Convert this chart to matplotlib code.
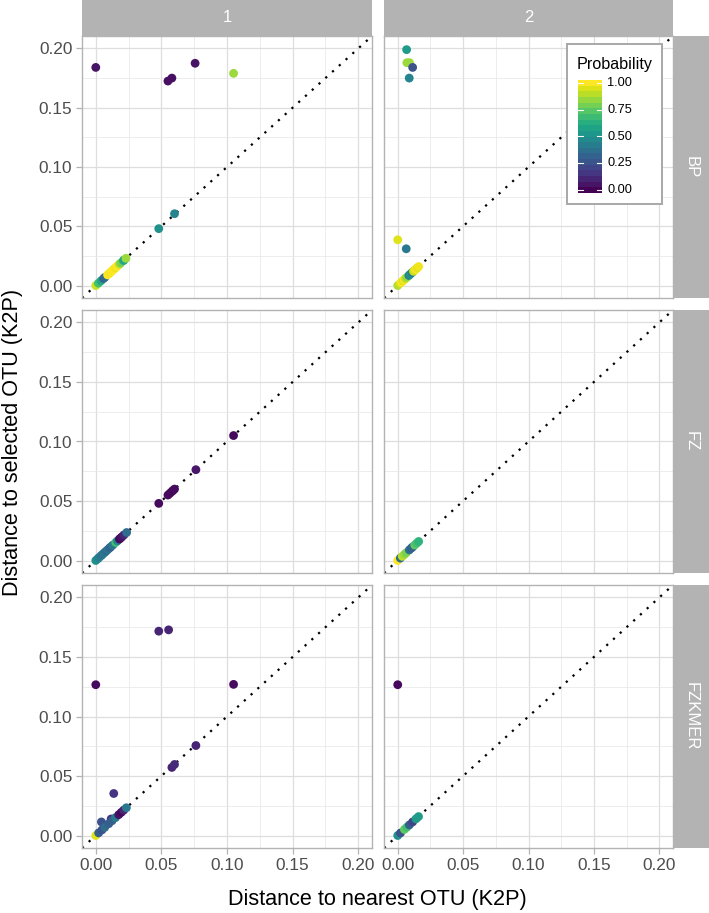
import numpy as np
import matplotlib.pyplot as plt
from matplotlib.patches import Rectangle

plt.rcParams['font.family'] = ['Liberation Sans', 'DejaVu Sans']

# facet labels
col_labels = ['1', '2']
row_labels = ['BP', 'FZ', 'FZKMER']
ticks = [0.00, 0.05, 0.10, 0.15, 0.20]
tick_labels = ['0.00', '0.05', '0.10', '0.15', '0.20']

# BP / 1
bp1_x = [0.000, 0.055, 0.058, 0.0757, 0.105, 0.060, 0.048,
         0.000, 0.002, 0.004, 0.006, 0.007, 0.009, 0.010, 0.011, 0.012, 0.013,
         0.014, 0.015, 0.016, 0.017, 0.018, 0.019, 0.021, 0.0215, 0.023]
bp1_y = [0.184, 0.1725, 0.175, 0.1875, 0.179, 0.0606, 0.048,
         0.000, 0.002, 0.004, 0.006, 0.007, 0.009, 0.010, 0.011, 0.012, 0.013,
         0.014, 0.015, 0.016, 0.017, 0.018, 0.019, 0.021, 0.0215, 0.023]
bp1_p = [0.05, 0.04, 0.04, 0.05, 0.85, 0.45, 0.50,
         0.92, 0.70, 0.60, 0.30, 0.35, 1.00, 1.00, 0.98, 1.00, 1.00,
         1.00, 0.97, 1.00, 1.00, 0.90, 0.80, 0.65, 0.60, 0.85]

# BP / 2
bp2_x = [0.0068, 0.007, 0.009, 0.0114, 0.0088, 0.000, 0.0065,
         0.000, 0.002, 0.003, 0.004, 0.005, 0.006, 0.007, 0.0085, 0.0095, 0.011,
         0.012, 0.013, 0.014, 0.015, 0.016]
bp2_y = [0.199, 0.188, 0.188, 0.184, 0.175, 0.0386, 0.031,
         0.000, 0.002, 0.003, 0.004, 0.005, 0.006, 0.007, 0.0085, 0.0095, 0.011,
         0.012, 0.013, 0.014, 0.015, 0.016]
bp2_p = [0.55, 0.85, 0.85, 0.25, 0.45, 0.95, 0.40,
         0.88, 0.95, 1.00, 0.95, 1.00, 0.90, 0.85, 0.45, 0.50, 0.40,
         0.90, 0.95, 1.00, 0.95, 0.98]

# FZ / 1
fz1_x = [0.105, 0.0763, 0.055, 0.0565, 0.058, 0.059, 0.060, 0.048,
         0.000, 0.0015, 0.0025, 0.004, 0.005, 0.0065, 0.0076, 0.009, 0.0105,
         0.0114, 0.013, 0.0152, 0.0165, 0.018, 0.019, 0.020, 0.0215, 0.0235]
fz1_y = [0.105, 0.0763, 0.055, 0.0565, 0.058, 0.059, 0.060, 0.048,
         0.000, 0.0015, 0.0025, 0.004, 0.005, 0.0065, 0.0076, 0.009, 0.0105,
         0.0114, 0.013, 0.0152, 0.0165, 0.018, 0.019, 0.020, 0.0215, 0.0235]
fz1_p = [0.02, 0.06, 0.03, 0.02, 0.03, 0.02, 0.03, 0.03,
         0.50, 0.48, 0.42, 0.40, 0.38, 0.40, 0.35, 0.38, 0.33,
         0.32, 0.40, 0.70, 0.45, 0.03, 0.02, 0.05, 0.10, 0.35]

# FZ / 2
fz2_x = [0.000, 0.002, 0.0035, 0.005, 0.0065, 0.0089, 0.0105, 0.0114, 0.013, 0.0145, 0.016]
fz2_y = [0.000, 0.002, 0.0035, 0.005, 0.0065, 0.0089, 0.0105, 0.0114, 0.013, 0.0145, 0.016]
fz2_p = [1.00, 0.35, 0.90, 0.85, 0.80, 0.35, 0.30, 0.32, 0.75, 0.70, 0.65]

# FZKMER / 1
fzk1_x = [0.048, 0.0555, 0.000, 0.105, 0.0763, 0.058, 0.060, 0.0137, 0.0043, 0.0117,
          0.000, 0.0022, 0.0047, 0.0068, 0.0099, 0.0124, 0.015, 0.0175, 0.0195, 0.0213, 0.0233]
fzk1_y = [0.1717, 0.1728, 0.1267, 0.127, 0.0756, 0.0572, 0.0597, 0.0353, 0.0114, 0.0139,
          0.000, 0.0022, 0.0047, 0.0068, 0.0099, 0.0124, 0.015, 0.0175, 0.0195, 0.0213, 0.0233]
fzk1_p = [0.10, 0.10, 0.03, 0.03, 0.10, 0.10, 0.12, 0.15, 0.25, 0.15,
          0.95, 0.30, 0.25, 0.35, 0.30, 0.30, 0.40, 0.05, 0.02, 0.10, 0.40]

# FZKMER / 2
fzk2_x = [0.000, 0.000, 0.0021, 0.0051, 0.007, 0.0089, 0.0114, 0.014, 0.0159]
fzk2_y = [0.1267, 0.000, 0.0021, 0.0051, 0.007, 0.0089, 0.0114, 0.014, 0.0159]
fzk2_p = [0.02, 0.50, 0.25, 0.75, 0.70, 0.30, 0.20, 0.55, 0.55]

panels = [[(bp1_x, bp1_y, bp1_p), (bp2_x, bp2_y, bp2_p)],
          [(fz1_x, fz1_y, fz1_p), (fz2_x, fz2_y, fz2_p)],
          [(fzk1_x, fzk1_y, fzk1_p), (fzk2_x, fzk2_y, fzk2_p)]]

W, H = 709, 913
fig = plt.figure(figsize=(W / 100, H / 100), dpi=100)


def box(x0, y0, x1, y1):
    # pixel box -> figure fraction rect
    return [x0 / W, 1 - y1 / H, (x1 - x0) / W, (y1 - y0) / H]


col_px = [(82, 372), (384, 673)]
row_px = [(36, 298), (310, 573), (585, 848)]
lim = (-0.0105, 0.2105)
grey70 = '#B3B3B3'

for i, (y0, y1) in enumerate(row_px):
    for j, (x0, x1) in enumerate(col_px):
        ax = fig.add_axes(box(x0, y0, x1, y1))
        px, py, pp = panels[i][j]
        ax.set_xlim(lim)
        ax.set_ylim(lim)
        ax.set_xticks(ticks)
        ax.set_yticks(ticks)
        ax.set_xticks([0.025, 0.075, 0.125, 0.175], minor=True)
        ax.set_yticks([0.025, 0.075, 0.125, 0.175], minor=True)
        ax.grid(True, which='major', color='#DEDEDE', lw=0.9)
        ax.grid(True, which='minor', color='#E8E8E8', lw=0.55)
        ax.set_axisbelow(True)
        ax.plot(lim, lim, color='black', lw=1.6, linestyle=(0, (1, 3.1)), zorder=2)
        ax.scatter(px, py, c=pp, cmap='viridis', vmin=0, vmax=1, s=40,
                   linewidths=0, zorder=3)
        for sp in ax.spines.values():
            sp.set_color(grey70)
            sp.set_linewidth(1.0)
        ax.tick_params(which='minor', length=0)
        ax.tick_params(which='major', color=grey70, length=4.5, width=0.9,
                       labelsize=12.4, labelcolor='#4D4D4D', pad=2.5)
        if j == 0:
            ax.set_yticklabels(tick_labels)
        else:
            ax.tick_params(axis='y', length=0, labelleft=False)
        if i == 2:
            ax.set_xticklabels(tick_labels)
        else:
            ax.tick_params(axis='x', length=0, labelbottom=False)

# strips
for j, (x0, x1) in enumerate(col_px):
    sax = fig.add_axes(box(x0, 0, x1, 36))
    sax.set_facecolor(grey70)
    sax.set_xticks([])
    sax.set_yticks([])
    for sp in sax.spines.values():
        sp.set_visible(False)
    sax.text(0.5, 0.5, col_labels[j], color='white', fontsize=12,
             ha='center', va='center', transform=sax.transAxes)

for i, (y0, y1) in enumerate(row_px):
    sax = fig.add_axes(box(673, y0, 709, y1))
    sax.set_facecolor(grey70)
    sax.set_xticks([])
    sax.set_yticks([])
    for sp in sax.spines.values():
        sp.set_visible(False)
    sax.text(0.5, 0.5, row_labels[i], color='white', fontsize=12, rotation=-90,
             ha='center', va='center', transform=sax.transAxes)

# axis titles
fig.text(377 / W, 1 - 899 / H, 'Distance to nearest OTU (K2P)', fontsize=15.6,
         ha='center', va='center')
fig.text(13 / W, 1 - 442 / H, 'Distance to selected OTU (K2P)', fontsize=15.6,
         rotation=90, ha='center', va='center')

# legend inside top-right panel
fig.patches.append(Rectangle((567 / W, 1 - 204 / H), 95 / W, 160 / H,
                             transform=fig.transFigure, facecolor='white',
                             edgecolor='#A8A8A8', lw=1.4, zorder=5))
fig.text(577 / W, 1 - 64 / H, 'Probability', fontsize=11.6, ha='left',
         va='center', zorder=6)
cax = fig.add_axes(box(578, 80, 602, 193))
cax.set_zorder(6)
bins = np.linspace(0, 1, 20).reshape(-1, 1)
cax.imshow(bins, cmap='viridis', aspect='auto', origin='lower',
           extent=(0, 1, 0, 1), vmin=0, vmax=1)
for v in [0.0, 0.25, 0.5, 0.75, 1.0]:
    yv = 0.025 + v * 0.95
    cax.plot([0, 0.2], [yv, yv], color='white', lw=0.8)
    cax.plot([0.8, 1], [yv, yv], color='white', lw=0.8)
    fig.text(607 / W, 1 - (193 - (0.025 + v * 0.95) * 113) / H,
             '%.2f' % v, fontsize=9.2, ha='left', va='center', zorder=6)
cax.set_xlim(0, 1)
cax.set_ylim(0, 1)
cax.axis('off')

fig.savefig('out.png', dpi=100)
